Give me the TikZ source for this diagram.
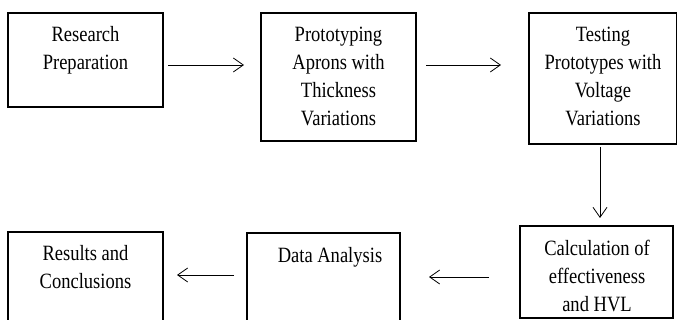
\documentclass[tikz,border=0pt]{standalone}
\usepackage{fontspec}
\setmainfont{Liberation Serif}
\newfontfamily\stagefont[FakeStretch=0.85]{Liberation Serif}
\usetikzlibrary{arrows.meta}
\begin{document}
\begin{tikzpicture}[x=1pt,y=-1pt,
  stagebox/.style={draw, line width=1.4pt, inner sep=0pt},
  stagetext/.style={anchor=base, inner sep=0pt, font=\stagefont\fontsize{21.8}{28}\selectfont},
  flow/.style={line width=0.8pt, -{Straight Barb[length=10pt,width=14pt,line width=0.8pt]}}]

\useasboundingbox (0,0) rectangle (678,320);
\clip (0,0) rectangle (678,320);

% stage frames
\node[stagebox, minimum width=155pt, minimum height=94pt]    (prep)  at (85.5,60)    {};
\node[stagebox, minimum width=155pt, minimum height=128pt]   (proto) at (338.5,77)   {};
\node[stagebox, minimum width=147.5pt, minimum height=131pt] (test)  at (602.75,78.5) {};
\node[stagebox, minimum width=153pt, minimum height=92pt]    (calc)  at (596.5,272)  {};
\node[stagebox, minimum width=153pt, minimum height=107pt]   (data)  at (323.5,286.5) {};
\node[stagebox, minimum width=155pt, minimum height=108pt]   (res)   at (85.5,286)   {};

% stage captions, set from the top of each frame
\node[stagetext] (prepT)  at (85.5,42)  {\begin{tabular}[t]{@{}c@{}}Research\\Preparation\end{tabular}};
\node[stagetext] (protoT) at (338.5,42) {\begin{tabular}[t]{@{}c@{}}Prototyping\\Aprons with\\Thickness\\Variations\end{tabular}};
\node[stagetext] (testT)  at (603,41.5) {\begin{tabular}[t]{@{}c@{}}Testing\\Prototypes with\\Voltage\\Variations\end{tabular}};
\node[stagetext] (calcT)  at (597,256)  {\begin{tabular}[t]{@{}c@{}}Calculation of\\effectiveness\\and HVL\end{tabular}};
\node[stagetext] (dataT)  at (330,263)  {\begin{tabular}[t]{@{}c@{}}Data Analysis\end{tabular}};
\node[stagetext] (resT)   at (85.5,261) {\begin{tabular}[t]{@{}c@{}}Results and\\Conclusions\end{tabular}};

% arrow end points
\coordinate (a1s) at (168,65);  \coordinate (a1e) at (244,65);
\coordinate (a2s) at (426,65);  \coordinate (a2e) at (501,65);
\coordinate (a3s) at (600,147); \coordinate (a3e) at (600,218);
\coordinate (a4s) at (489,277); \coordinate (a4e) at (429,277);
\coordinate (a5s) at (234,275); \coordinate (a5e) at (177,275);

\draw[flow] (a1s) -- (a1e);
\draw[flow] (a2s) -- (a2e);
\draw[flow] (a3s) -- (a3e);
\draw[flow] (a4s) -- (a4e);
\draw[flow] (a5s) -- (a5e);
\end{tikzpicture}
\end{document}
